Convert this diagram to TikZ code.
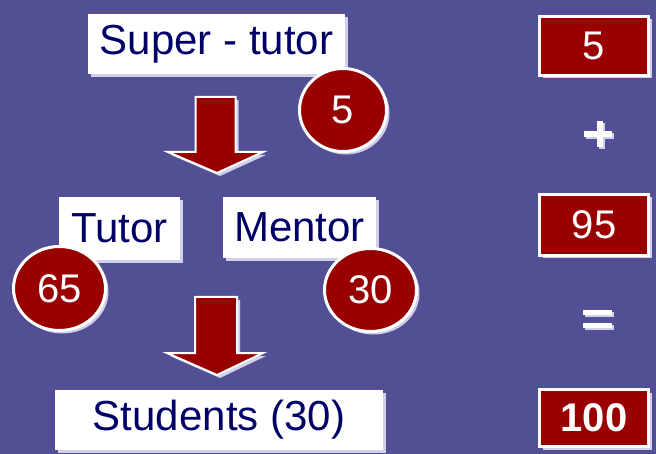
\documentclass[tikz,border=0pt]{standalone}
\usepackage{fontspec}
\setmainfont{Liberation Sans}
\usetikzlibrary{shadows,shapes.geometric}
\definecolor{bgc}{HTML}{524F94}
\definecolor{redc}{HTML}{990000}
\definecolor{navy}{HTML}{000066}
\definecolor{shc}{HTML}{D0D0EA}
\begin{document}
\begin{tikzpicture}[x=1pt,y=-1pt,
  shad/.style={drop shadow={shadow xshift=3pt,shadow yshift=-3pt,fill=shc,opacity=1}},
  label/.style={fill=white,shad,inner sep=0pt,text=navy,font=\fontsize{42}{50}\selectfont},
  badge/.style={ellipse,fill=redc,draw=white,line width=3pt,shad,inner sep=0pt,text=white,font=\fontsize{40}{48}\selectfont},
  numbox/.style={rectangle,fill=redc,draw=white,line width=3pt,shad,inner sep=0pt,text=white,font=\fontsize{40}{48}\selectfont,minimum width=109pt},
  blockarrow/.style={fill=redc,draw=white,line width=2pt,line join=miter,shad},
  bar/.style={fill=white,draw=none,drop shadow={shadow xshift=2pt,shadow yshift=-2pt,fill=shc,opacity=1}}
]
\fill[bgc] (0,0) rectangle (656,454);
\useasboundingbox (0,0) rectangle (656,454);

% labels
\node[label,minimum width=257pt,minimum height=60pt] (super) at (216.5,44) {Super - tutor};
\node[label,minimum width=121pt,minimum height=63pt] (tutor) at (119.5,228.5) {Tutor};
\node[label,minimum width=153pt,minimum height=61pt] (mentor) at (299.5,227.5) {Mentor};
\node[label,minimum width=328pt,minimum height=60pt] (students) at (219,420) {Students (30)};

% badges
\node[badge,minimum width=87pt,minimum height=83pt] (b5) at (343,110) {5};
\node[badge,minimum width=92pt,minimum height=84pt] (b65) at (59.5,288.5) {65};
\node[badge,minimum width=92pt,minimum height=83pt] (b30) at (370.5,290) {30};

% block arrows
\coordinate (a1) at (215.5,97);
\draw[blockarrow] ([xshift=-20pt]a1) -- ([xshift=20pt]a1) -- ([xshift=20pt,yshift=-55pt]a1)
  -- ([xshift=47.5pt,yshift=-55pt]a1) -- ([xshift=1.5pt,yshift=-76pt]a1)
  -- ([xshift=-47.5pt,yshift=-55pt]a1) -- ([xshift=-20pt,yshift=-55pt]a1) -- cycle;
\coordinate (a2) at (216,297);
\draw[blockarrow] ([xshift=-21pt]a2) -- ([xshift=21pt]a2) -- ([xshift=21pt,yshift=-56pt]a2)
  -- ([xshift=47pt,yshift=-56pt]a2) -- ([xshift=1pt,yshift=-78pt]a2)
  -- ([xshift=-49pt,yshift=-56pt]a2) -- ([xshift=-21pt,yshift=-56pt]a2) -- cycle;

% right column
\node[numbox,minimum height=59pt] (n5) at (594,46) {5};
\node[numbox,minimum height=61pt] (n95) at (594,225) {95};
\node[numbox,minimum height=57pt,font=\fontsize{40}{48}\selectfont\bfseries] (n100) at (594,418) {100};

% plus
\path[bar] (584,131.5) rectangle (612,137.5);
\path[bar] (596.5,121) rectangle (602.5,147);
\fill[white] (584,131.5) rectangle (612,137.5);
% equals
\path[bar] (583,310) rectangle (612,315.5);
\path[bar] (583,323) rectangle (612,328.5);
\end{tikzpicture}
\end{document}
